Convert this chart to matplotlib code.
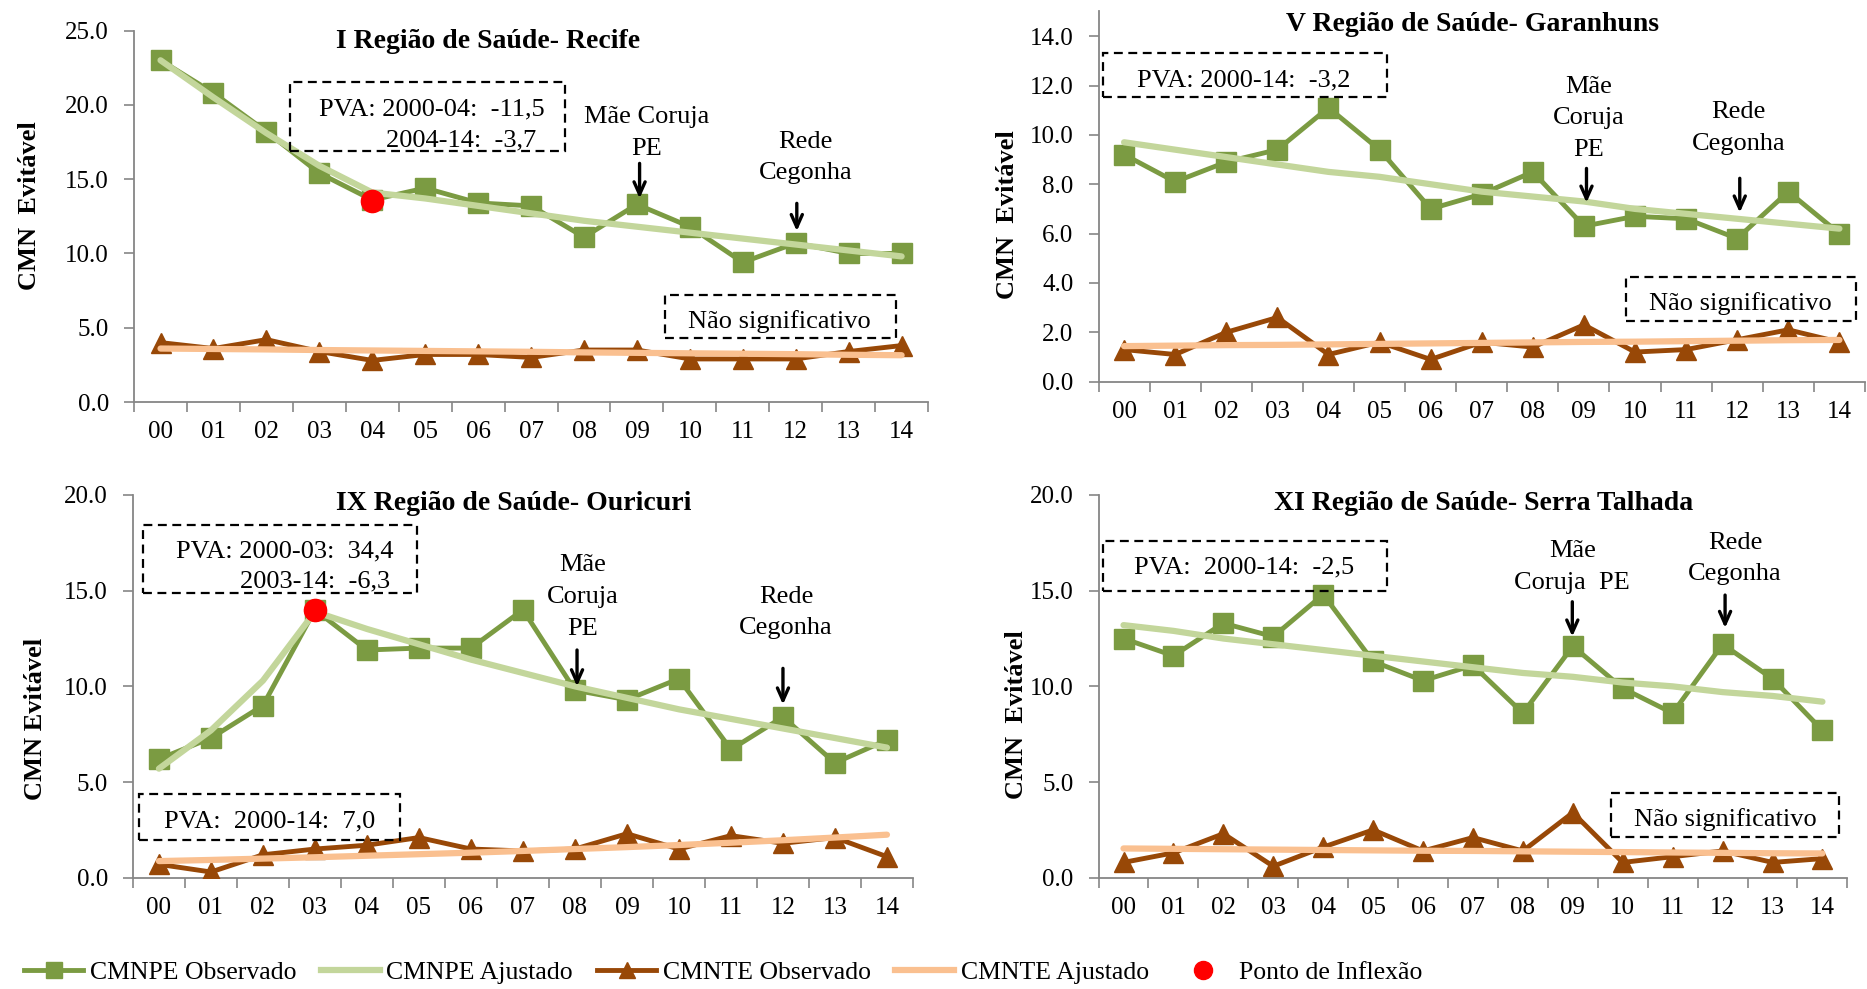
import numpy as np
import matplotlib
matplotlib.use('Agg')
import matplotlib.pyplot as plt
from matplotlib.patches import Rectangle
from matplotlib.lines import Line2D
from matplotlib.ticker import FormatStrFormatter

plt.rcParams['font.family'] = ['Liberation Serif', 'DejaVu Serif']

# Anos (2000-2014)
years = ['00', '01', '02', '03', '04', '05', '06', '07', '08', '09', '10', '11', '12', '13', '14']

# I Região - Recife
recife_pe_obs = [23.0, 20.8, 18.2, 15.4, 13.6, 14.4, 13.4, 13.2, 11.1, 13.3, 11.8, 9.4, 10.7, 10.0, 10.0]
recife_pe_fit = [23.0, 20.5, 18.1, 15.9, 14.1, 13.7, 13.2, 12.7, 12.2, 11.8, 11.4, 11.0, 10.6, 10.2, 9.8]
recife_te_obs = [4.0, 3.6, 4.2, 3.4, 2.8, 3.2, 3.2, 3.0, 3.5, 3.5, 2.9, 2.9, 2.9, 3.4, 3.8]
recife_te_fit = [3.60, 3.57, 3.54, 3.50, 3.47, 3.44, 3.41, 3.38, 3.34, 3.31, 3.28, 3.25, 3.22, 3.18, 3.15]
recife_inflexao = (4, 13.5)

# V Região - Garanhuns
garanhuns_pe_obs = [9.2, 8.1, 8.9, 9.4, 11.1, 9.4, 7.0, 7.6, 8.5, 6.3, 6.7, 6.6, 5.8, 7.7, 6.0]
garanhuns_pe_fit = [9.7, 9.4, 9.1, 8.8, 8.5, 8.3, 8.0, 7.7, 7.5, 7.3, 7.0, 6.8, 6.6, 6.4, 6.2]
garanhuns_te_obs = [1.3, 1.1, 2.0, 2.6, 1.1, 1.6, 0.9, 1.6, 1.4, 2.3, 1.2, 1.3, 1.7, 2.1, 1.6]
garanhuns_te_fit = [1.44, 1.46, 1.48, 1.49, 1.51, 1.53, 1.55, 1.57, 1.59, 1.61, 1.62, 1.64, 1.66, 1.68, 1.69]

# IX Região - Ouricuri
ouricuri_pe_obs = [6.2, 7.3, 9.0, 14.0, 11.9, 12.0, 12.0, 14.0, 9.8, 9.3, 10.4, 6.7, 8.4, 6.0, 7.2]
ouricuri_pe_fit = [5.7, 7.7, 10.3, 13.9, 13.0, 12.2, 11.4, 10.7, 10.0, 9.4, 8.8, 8.3, 7.8, 7.3, 6.8]
ouricuri_te_obs = [0.7, 0.3, 1.2, 1.5, 1.7, 2.1, 1.5, 1.4, 1.5, 2.3, 1.5, 2.2, 1.8, 2.1, 1.1]
ouricuri_te_fit = [0.87, 0.93, 1.00, 1.07, 1.15, 1.23, 1.31, 1.40, 1.50, 1.60, 1.71, 1.83, 1.96, 2.10, 2.25]
ouricuri_inflexao = (3, 14.0)

# XI Região - Serra Talhada
serra_pe_obs = [12.5, 11.6, 13.3, 12.6, 14.8, 11.3, 10.3, 11.1, 8.6, 12.1, 9.9, 8.6, 12.2, 10.4, 7.7]
serra_pe_fit = [13.2, 12.9, 12.5, 12.2, 11.9, 11.6, 11.3, 11.0, 10.7, 10.5, 10.2, 10.0, 9.7, 9.5, 9.2]
serra_te_obs = [0.8, 1.3, 2.3, 0.6, 1.6, 2.5, 1.4, 2.1, 1.4, 3.4, 0.8, 1.1, 1.4, 0.8, 1.0]
serra_te_fit = [1.53, 1.51, 1.49, 1.47, 1.45, 1.43, 1.41, 1.40, 1.38, 1.36, 1.34, 1.32, 1.30, 1.28, 1.27]

PE_OBS = '#7B9B42'
PE_FIT = '#C3D69B'
TE_OBS = '#984807'
TE_FIT = '#FAC090'
AXIS_GRAY = '#868686'

fig = plt.figure(figsize=(18.67, 9.89), dpi=100)
ax_tl = fig.add_axes([0.0718, 0.5935, 0.4253, 0.3756])
ax_tr = fig.add_axes([0.5884, 0.6141, 0.4105, 0.3743])
ax_bl = fig.add_axes([0.0712, 0.1125, 0.4178, 0.3870])
ax_br = fig.add_axes([0.5884, 0.1125, 0.4011, 0.3870])


def draw_panel(ax, title, title_xy, pe_obs, pe_fit, te_obs, te_fit, ymax, ystep, ytop, ylabel, ylabel_xy):
    x = np.arange(len(years))
    ax.plot(x, pe_obs, color=PE_OBS, lw=3.5, marker='s', ms=14.5, zorder=3)
    ax.plot(x, pe_fit, color=PE_FIT, lw=4.5, zorder=4, solid_capstyle='round')
    ax.plot(x, te_obs, color=TE_OBS, lw=3.5, marker='^', ms=14.5, zorder=3)
    ax.plot(x, te_fit, color=TE_FIT, lw=4.5, zorder=4, solid_capstyle='round')

    ax.set_xlim(-0.5, len(years) - 0.5)
    ax.set_ylim(0, ymax)
    ax.set_yticks(np.arange(0, ytop + 0.001, ystep))
    ax.yaxis.set_major_formatter(FormatStrFormatter('%.1f'))
    ax.set_xticks(np.arange(-0.5, len(years), 1))
    ax.set_xticklabels([])
    ax.set_xticks(x, minor=True)
    ax.set_xticklabels(years, minor=True)
    ax.tick_params(axis='x', which='major', length=7, width=1.2, color=AXIS_GRAY)
    ax.tick_params(axis='x', which='minor', length=0, pad=14, labelsize=18)
    ax.tick_params(axis='y', length=7, width=1.2, color=AXIS_GRAY, pad=11, labelsize=18)
    for s in ['top', 'right']:
        ax.spines[s].set_visible(False)
    for s in ['left', 'bottom']:
        ax.spines[s].set_color(AXIS_GRAY)
        ax.spines[s].set_linewidth(1.3)
    ax.set_facecolor('none')

    ax.text(title_xy[0], title_xy[1], title, transform=ax.transAxes, ha='center', va='center',
            fontsize=20, fontweight='bold')
    ax.set_ylabel(ylabel, fontsize=19, fontweight='bold')
    ax.yaxis.set_label_coords(*ylabel_xy)


def box(ax, x0, x1, y0, y1):
    ax.add_patch(Rectangle((x0, y0), x1 - x0, y1 - y0, fill=False, ec='black', lw=1.6,
                           ls=(0, (4, 2.5)), clip_on=False, zorder=6))


def arrow(ax, x, y0, y1):
    ax.annotate('', xy=(x, y1), xytext=(x, y0),
                arrowprops=dict(arrowstyle='->,head_length=0.9,head_width=0.4', color='black', lw=2.4,
                                shrinkA=0, shrinkB=0),
                annotation_clip=False, zorder=6)


def lines(ax, x, ys, texts, ha='center'):
    for y, t in zip(ys, texts):
        ax.text(x, y, t, ha=ha, va='center', fontsize=19, zorder=7)


def inflexao(ax, pt):
    ax.plot(pt[0], pt[1], 'o', color='#FF0000', ms=16, zorder=8)


# I Região - Recife
draw_panel(ax_tl, 'I Região de Saúde- Recife', (0.446, 0.97), recife_pe_obs, recife_pe_fit,
           recife_te_obs, recife_te_fit, 25, 5, 25, 'CMN  Evitável', (-0.117, 0.53))
inflexao(ax_tl, recife_inflexao)
box(ax_tl, 2.45, 7.64, 16.9, 21.55)
lines(ax_tl, 7.25, [19.7], ['PVA: 2000-04:  -11,5'], ha='right')
lines(ax_tl, 7.1, [17.6], ['2004-14:  -3,7'], ha='right')
lines(ax_tl, 9.18, [19.2, 17.05], ['Mãe Coruja', 'PE'])
arrow(ax_tl, 9.05, 16.06, 13.7)
lines(ax_tl, 12.19, [17.5, 15.4], ['Rede', 'Cegonha'])
arrow(ax_tl, 12.02, 13.37, 11.5)
box(ax_tl, 9.53, 13.9, 4.29, 7.2)
lines(ax_tl, 11.7, [5.4], ['Não significativo'])

# V Região - Garanhuns
draw_panel(ax_tr, 'V Região de Saúde- Garanhuns', (0.488, 0.966), garanhuns_pe_obs, garanhuns_pe_fit,
           garanhuns_te_obs, garanhuns_te_fit, 15, 2, 14, 'CMN  Evitável', (-0.104, 0.45))
box(ax_tr, -0.41, 5.15, 11.52, 13.33)
lines(ax_tr, 2.34, [12.22], ['PVA: 2000-14:  -3,2'])
lines(ax_tr, 9.1, [11.95, 10.67, 9.38], ['Mãe', 'Coruja', 'PE'])
arrow(ax_tr, 9.05, 8.64, 7.25)
lines(ax_tr, 12.02, [10.94, 9.65], ['Rede', 'Cegonha'])
arrow(ax_tr, 12.05, 8.24, 6.85)
box(ax_tr, 9.83, 14.32, 2.47, 4.25)
lines(ax_tr, 12.06, [3.15], ['Não significativo'])

# IX Região - Ouricuri
draw_panel(ax_bl, 'IX Região de Saúde- Ouricuri', (0.488, 0.978), ouricuri_pe_obs, ouricuri_pe_fit,
           ouricuri_te_obs, ouricuri_te_fit, 20, 5, 20, 'CMN Evitável', (-0.11, 0.415))
inflexao(ax_bl, ouricuri_inflexao)
box(ax_bl, -0.3, 4.97, 14.86, 18.43)
lines(ax_bl, 4.51, [17.04], ['PVA: 2000-03:  34,4'], ha='right')
lines(ax_bl, 4.44, [15.47], ['2003-14:  -6,3'], ha='right')
box(ax_bl, -0.39, 4.64, 1.97, 4.37)
lines(ax_bl, 2.12, [2.93], ['PVA:  2000-14:  7,0'])
lines(ax_bl, 8.15, [16.34, 14.69, 12.98], ['Mãe', 'Coruja', 'PE'])
arrow(ax_bl, 8.04, 11.9, 10.0)
lines(ax_bl, 12.06, [14.69, 13.03], ['Rede', 'Cegonha'])
arrow(ax_bl, 12.0, 10.94, 9.05)

# XI Região - Serra Talhada
draw_panel(ax_br, 'XI Região de Saúde- Serra Talhada', (0.514, 0.978), serra_pe_obs, serra_pe_fit,
           serra_te_obs, serra_te_fit, 20, 5, 20, 'CMN  Evitável', (-0.094, 0.425))
box(ax_br, -0.41, 5.28, 15.0, 17.61)
lines(ax_br, 2.41, [16.22], ['PVA:  2000-14:  -2,5'])
lines(ax_br, 8.99, [17.09, 15.42], ['Mãe', 'Coruja  PE'])
arrow(ax_br, 8.99, 14.42, 12.6)
lines(ax_br, 12.25, [17.51, 15.87], ['Rede', 'Cegonha'])
arrow(ax_br, 12.05, 14.77, 13.05)
box(ax_br, 9.77, 14.34, 2.14, 4.44)
lines(ax_br, 12.05, [3.02], ['Não significativo'])

# Legenda
handles = [
    Line2D([], [], color=PE_OBS, lw=3.5, marker='s', ms=12),
    Line2D([], [], color=PE_FIT, lw=4.5),
    Line2D([], [], color=TE_OBS, lw=3.5, marker='^', ms=12),
    Line2D([], [], color=TE_FIT, lw=4.5),
    Line2D([], [], color='#FF0000', lw=0, marker='o', ms=13),
]
labels = ['CMNPE Observado', 'CMNPE Ajustado', 'CMNTE Observado', 'CMNTE Ajustado', 'Ponto de Inflexão']
fig.legend(handles, labels, loc='center left', bbox_to_anchor=(0.013, 0.017), ncol=5, frameon=False,
           fontsize=18.5, handlelength=2.3, handletextpad=0.25, columnspacing=0.95, borderpad=0,
           borderaxespad=0)

fig.savefig('out.png', dpi=100)
